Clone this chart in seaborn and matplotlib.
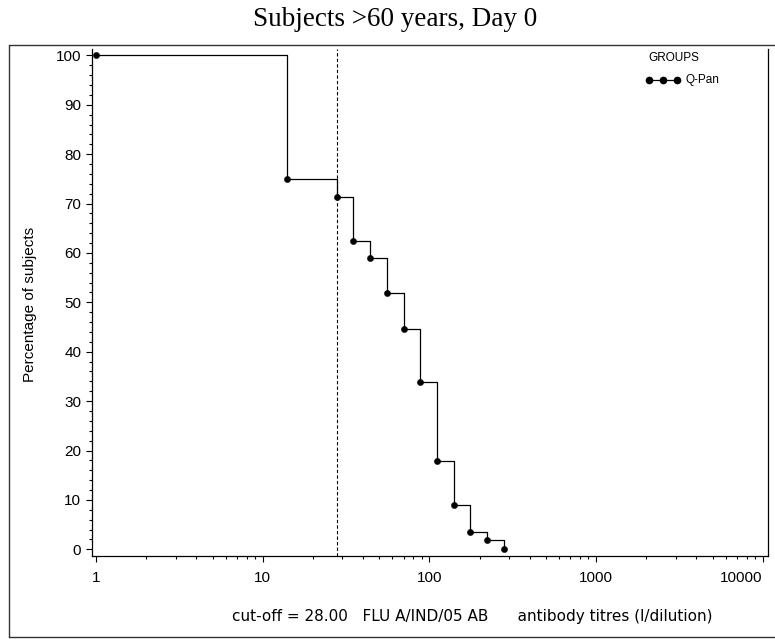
import matplotlib
matplotlib.use("Agg")
import matplotlib.pyplot as plt
import pandas as pd
import seaborn as sns
from matplotlib.lines import Line2D
from matplotlib.ticker import FixedLocator, FixedFormatter, LogLocator, MultipleLocator, NullFormatter

# Reverse cumulative distribution of antibody titres
titres = [1, 14, 28, 35, 44, 56, 70, 88, 111, 140, 176, 222, 280]
pct_subjects = [100.0, 75.0, 71.4, 62.5, 58.9, 51.8, 44.6, 33.9, 17.9, 8.9, 3.6, 1.8, 0.0]
group_name = "Q-Pan"
cutoff = 28.0
x_ticks = [1, 10, 100, 1000, 10000]
x_tick_labels = ["1", "10", "100", "1000", "10000"]
y_ticks = list(range(0, 101, 10))

title = "Subjects >60 years, Day 0"
x_caption = "cut-off = 28.00   FLU A/IND/05 AB      antibody titres (l/dilution)"
y_caption = "Percentage of subjects"

W, H = 775, 639
sns.set_theme(style="white")
plt.rcParams["font.family"] = ["Liberation Sans", "DejaVu Sans"]

fig = plt.figure(figsize=(W / 100, H / 100), dpi=100)


def fx(px):
    return px / W


def fy(py):
    return 1 - py / H


ax = fig.add_axes([fx(92), fy(556), fx(768) - fx(92), fy(49) - fy(556)])

df = pd.DataFrame({"titre": titres, "pct": pct_subjects, "group": group_name})
sns.lineplot(
    data=df, x="titre", y="pct", ax=ax, color="black", linewidth=0.9,
    marker="o", markersize=4.5, markeredgecolor="black", markeredgewidth=0.3,
    drawstyle="steps-post", errorbar=None, legend=False,
)
ax.axvline(cutoff, color="black", linewidth=0.8, linestyle=(0, (3, 2)))

ax.set_xscale("log")
ax.set_xlim(10 ** -0.024, 10 ** 4.031)
ax.set_ylim(-1.36, 101.3)

ax.xaxis.set_major_locator(FixedLocator(x_ticks))
ax.xaxis.set_major_formatter(FixedFormatter(x_tick_labels))
ax.xaxis.set_minor_locator(LogLocator(base=10, subs=range(2, 10)))
ax.xaxis.set_minor_formatter(NullFormatter())
ax.yaxis.set_major_locator(FixedLocator(y_ticks))
ax.yaxis.set_minor_locator(MultipleLocator(2))

ax.tick_params(which="both", direction="out", color="black", width=0.8,
               bottom=True, left=True, top=False, right=False)
ax.tick_params(which="major", length=4.3, labelsize=11, labelcolor="black")
ax.tick_params(which="minor", length=2.5)
ax.tick_params(axis="x", which="major", pad=6.5)
ax.tick_params(axis="y", which="major", pad=3.5)

# keep the last decade label inside the frame
last_label = ax.get_xticklabels(which="major")[-1]
last_label.set_horizontalalignment("right")

ax.set_xlabel("")
ax.set_ylabel("")
for side in ("left", "bottom", "right"):
    ax.spines[side].set_color("black")
    ax.spines[side].set_linewidth(0.9)
ax.spines["top"].set_visible(False)

fig.text(fx(395), fy(20), title, ha="center", va="center",
         family="Liberation Serif", fontsize=19.5, color="black")
fig.text(fx(30), fy(304), y_caption, ha="center", va="center",
         rotation=90, fontsize=11, color="black")
fig.text(fx(472), fy(617), x_caption, ha="center", va="center",
         family="DejaVu Sans", fontsize=11, color="black")

# Group key
fig.text(fx(648), fy(58), "GROUPS", ha="left", va="center", fontsize=8.5, color="black")
fig.add_artist(Line2D([fx(649), fx(663), fx(677)], [fy(80)] * 3, transform=fig.transFigure,
                      color="black", linewidth=0.9, marker="o", markersize=4.5))
fig.text(fx(685), fy(80), group_name, ha="left", va="center", fontsize=8.5, color="black")

# Outer frame
frame_kw = dict(transform=fig.transFigure, color="#333333", linewidth=1.0)
fig.add_artist(Line2D([fx(9), fx(9)], [fy(45), fy(637)], **frame_kw))
fig.add_artist(Line2D([fx(9), fx(775)], [fy(45), fy(45)], **frame_kw))
fig.add_artist(Line2D([fx(9), fx(775)], [fy(637), fy(637)], **frame_kw))

fig.savefig("out.png", dpi=100)
